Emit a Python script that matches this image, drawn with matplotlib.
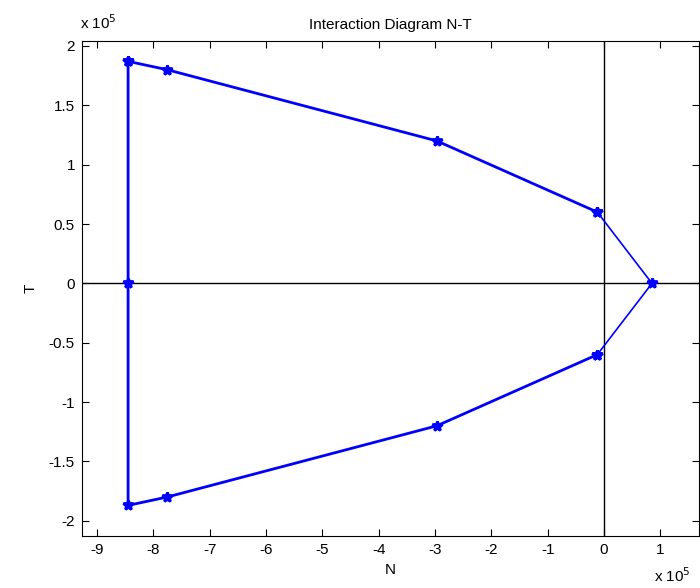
import matplotlib
matplotlib.use("Agg")
import matplotlib.pyplot as plt
import numpy as np

plt.rcParams['font.family'] = ['Liberation Sans', 'DejaVu Sans']

# Data (units of 1e5)
N_thick = [-8.45, -7.76, -2.97, -0.12]
T_thick = [1.87, 1.80, 1.20, 0.60]
N_tip = [-0.12, 0.85, -0.12]
T_tip = [0.60, 0.0, -0.60]
N_low = [-0.12, -2.97, -7.76, -8.45, -8.45, -8.45]
T_low = [-0.60, -1.20, -1.80, -1.87, 0.0, 1.87]
scale = 1e5

xticks = list(range(-9, 2))
yticks = [-2, -1.5, -1, -0.5, 0, 0.5, 1, 1.5, 2]

fig = plt.figure(figsize=(7, 5.88), dpi=100)
ax = fig.add_axes([0.117, 0.088, 0.882, 0.842])

ax.axhline(0, color='black', lw=1, zorder=1)
ax.axvline(0, color='black', lw=1, zorder=1)

blue = '#0000ff'
ax.plot(np.array(N_thick) * scale, np.array(T_thick) * scale, color=blue, lw=2,
        marker='*', ms=7, mew=2, zorder=3)
ax.plot(np.array(N_tip) * scale, np.array(T_tip) * scale, color=blue, lw=1.2,
        marker='*', ms=7, mew=2, zorder=3)
ax.plot(np.array(N_low) * scale, np.array(T_low) * scale, color=blue, lw=2,
        marker='*', ms=7, mew=2, zorder=3)

ax.set_xlim(-9.27e5, 1.69e5)
ax.set_ylim(-2.13e5, 2.04e5)
ax.set_xticks([t * scale for t in xticks])
ax.set_xticklabels([str(t) for t in xticks])
ax.set_yticks([t * scale for t in yticks])
ax.set_yticklabels([('%g' % t) for t in yticks])
ax.tick_params(direction='in', top=True, right=True, length=5, width=0.8,
               labelsize=11, pad=5)
for s in ax.spines.values():
    s.set_linewidth(0.8)

ax.set_title('Interaction Diagram N-T', fontsize=11, pad=9)
ax.set_xlabel('N', fontsize=11, labelpad=4)
ax.set_ylabel('T', fontsize=11, labelpad=8)

fig.text(0.115, 0.945, r'x 10$^5$', fontsize=11, ha='left', va='bottom')
fig.text(0.935, 0.005, r'x 10$^5$', fontsize=11, ha='left', va='bottom')

fig.savefig('out.png', dpi=100)
